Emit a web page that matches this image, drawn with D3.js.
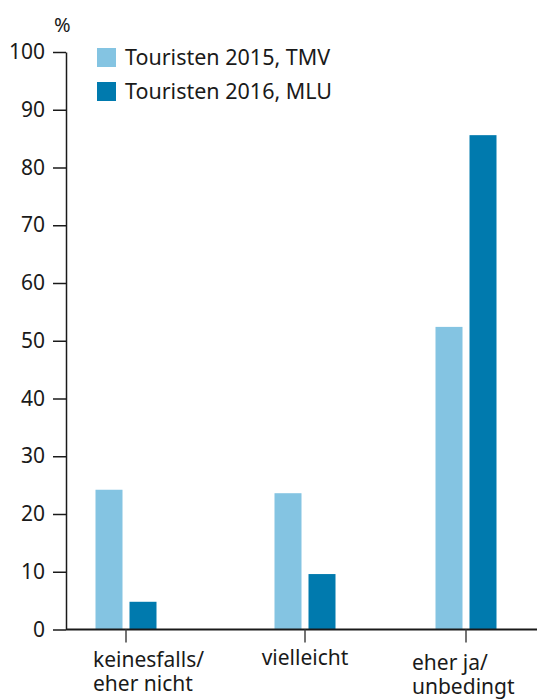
<!DOCTYPE html>
<html>
<head>
<meta charset="utf-8">
<script src="https://cdn.jsdelivr.net/npm/d3@7"></script>
<style>
  body { margin: 0; background: #fff; }
  text { font-family: "Noto Sans", "Open Sans", sans-serif; fill: #1a1a1a; }
</style>
</head>
<body>
<script>
'use strict';

var categories = [["keinesfalls/", "eher nicht"], ["vielleicht"], ["eher ja/", "unbedingt"]];
var series = ["Touristen 2015, TMV", "Touristen 2016, MLU"];
var values2015 = [24.2, 23.6, 52.4];
var values2016 = [4.8, 9.6, 85.6];
var yTicks = [0, 10, 20, 30, 40, 50, 60, 70, 80, 90, 100];

var colors = ["#84c4e2", "#007aae"];
var width = 537, height = 700;

var svg = d3.select("body").append("svg")
    .attr("width", width)
    .attr("height", height);

var y = d3.scaleLinear()
    .domain([0, 100])
    .range([629.5, 52]);

// group centres are not evenly spaced in the original
var keys = categories.map(function (c) { return c.join(" "); });
var x = d3.scaleOrdinal()
    .domain(keys)
    .range([126, 305, 466]);

var barW = 27, gap = 7;

// bars
var data = [values2015, values2016];
data.forEach(function (vals, s) {
    svg.append("g").selectAll("rect")
        .data(vals)
        .enter().append("rect")
        .attr("x", function (d, i) { return x(keys[i]) + (s === 0 ? -gap / 2 - barW : gap / 2); })
        .attr("y", function (d) { return y(d); })
        .attr("width", barW)
        .attr("height", function (d) { return y(0) - y(d); })
        .attr("fill", colors[s]);
});

// y axis
var yAxisGroup = svg.append("g")
    .attr("transform", "translate(66,0)");
var yAxis = d3.axisLeft(y)
    .tickValues(yTicks)
    .tickSize(13)
    .tickPadding(8)
    .tickSizeOuter(0);
yAxis(yAxisGroup);
yAxisGroup.select(".domain").attr("stroke", "#1a1a1a").attr("stroke-width", 1.5);
yAxisGroup.selectAll(".tick line").attr("stroke", "#1a1a1a").attr("stroke-width", 1.5);
yAxisGroup.selectAll(".tick text")
    .attr("font-size", 21)
    .attr("font-family", null)
    .attr("fill", "#1a1a1a");

svg.append("text")
    .attr("x", 54)
    .attr("y", 32)
    .attr("font-size", 20)
    .text("%");

// x axis
var xAxisGroup = svg.append("g");
xAxisGroup.append("line")
    .attr("x1", 66).attr("x2", 537)
    .attr("y1", y(0)).attr("y2", y(0))
    .attr("stroke", "#1a1a1a").attr("stroke-width", 2);
xAxisGroup.selectAll(".xtick")
    .data(keys)
    .enter().append("line")
    .attr("x1", function (d) { return x(d); })
    .attr("x2", function (d) { return x(d); })
    .attr("y1", y(0))
    .attr("y2", y(0) + 13)
    .attr("stroke", "#444").attr("stroke-width", 1.5);

// category labels, one text per line
var labelShift = [-33, 0, -54];
var labelTop = [667, 665, 670];
categories.forEach(function (lines, i) {
    svg.append("g").selectAll("text")
        .data(lines)
        .enter().append("text")
        .attr("font-size", 21)
        .attr("text-anchor", lines.length === 1 ? "middle" : "start")
        .attr("x", x(keys[i]) + labelShift[i])
        .attr("y", function (d, j) { return labelTop[i] + j * 24; })
        .text(function (d) { return d; });
});

// legend
var legend = svg.append("g").selectAll("g")
    .data(series)
    .enter().append("g")
    .attr("transform", function (d, i) { return "translate(97," + (48 + i * 34) + ")"; });
legend.append("rect")
    .attr("width", 19).attr("height", 19)
    .attr("fill", function (d, i) { return colors[i]; });
legend.append("text")
    .attr("x", 28)
    .attr("y", 17)
    .attr("font-size", 21.5)
    .text(function (d) { return d; });
</script>
</body>
</html>
